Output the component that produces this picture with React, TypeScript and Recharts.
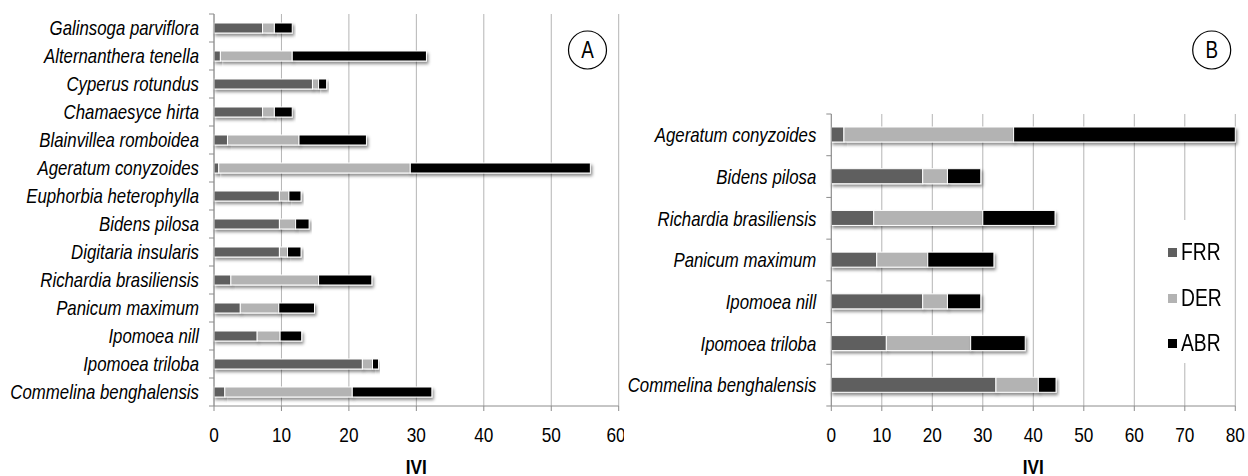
import { BarChart, Bar, XAxis, YAxis, CartesianGrid, Legend } from 'recharts'

const seriesNames = ['FRR', 'DER', 'ABR']
const seriesColors = ['#5f5f5f', '#b3b3b3', '#000000']

const speciesA = [
  'Galinsoga parviflora',
  'Alternanthera tenella',
  'Cyperus rotundus',
  'Chamaesyce hirta',
  'Blainvillea romboidea',
  'Ageratum conyzoides',
  'Euphorbia heterophylla',
  'Bidens pilosa',
  'Digitaria insularis',
  'Richardia brasiliensis',
  'Panicum maximum',
  'Ipomoea nill',
  'Ipomoea triloba',
  'Commelina benghalensis',
]
const frrA = [7.2, 0.95, 14.6, 7.2, 2.0, 0.7, 9.7, 9.7, 9.7, 2.5, 3.9, 6.4, 22.0, 1.6]
const derA = [1.75, 10.65, 0.9, 1.75, 10.6, 28.4, 1.4, 2.4, 1.2, 13.0, 5.7, 3.4, 1.5, 18.9]
const abrA = [2.65, 19.9, 1.2, 2.65, 10.0, 26.7, 1.8, 2.0, 2.0, 7.9, 5.3, 3.2, 0.9, 11.8]
const ticksA = [0, 10, 20, 30, 40, 50, 60]

const speciesB = [
  'Ageratum conyzoides',
  'Bidens pilosa',
  'Richardia brasiliensis',
  'Panicum maximum',
  'Ipomoea nill',
  'Ipomoea triloba',
  'Commelina benghalensis',
]
const frrB = [2.5, 18.1, 8.4, 9.0, 18.1, 10.9, 32.6]
const derB = [33.6, 4.9, 21.6, 10.1, 4.9, 16.7, 8.4]
const abrB = [43.9, 6.6, 14.3, 13.1, 6.6, 10.8, 3.5]
const ticksB = [0, 10, 20, 30, 40, 50, 60, 70, 80]

// no narrow font installed, so squeeze Liberation Sans like Arial Narrow
const font = "'Liberation Sans', Arial, sans-serif"
const squeeze = 0.82
const axisGray = '#8c8c8c'

const build = (names: string[], a: number[], b: number[], c: number[]) =>
  names.map((name, i) => ({ name, FRR: a[i], DER: b[i], ABR: c[i] }))

const dataA = build(speciesA, frrA, derA, abrA)
const dataB = build(speciesB, frrB, derB, abrB)

function NarrowText({ x, y, dy, anchor, size, italic, bold, children }: any) {
  return (
    <text
      transform={`translate(${x},${y}) scale(${squeeze},1)`}
      dy={dy}
      textAnchor={anchor}
      fontFamily={font}
      fontSize={size}
      fontStyle={italic ? 'italic' : 'normal'}
      fontWeight={bold ? 'bold' : 'normal'}
      fill="#000"
    >
      {children}
    </text>
  )
}

function makeCatTick(band: number, last: string) {
  return (props: any) => {
    const { x, y, payload } = props
    return (
      <g>
        <NarrowText x={x} y={y} dy="0.355em" anchor="end" size={20.5} italic>
          {payload.value}
        </NarrowText>
        <line x1={x + 10} x2={x + 15} y1={y - band / 2} y2={y - band / 2} stroke={axisGray} />
        {payload.value === last && (
          <line x1={x + 10} x2={x + 15} y1={y + band / 2} y2={y + band / 2} stroke={axisGray} />
        )}
      </g>
    )
  }
}

const ValueTick = (props: any) => (
  <NarrowText x={props.x} y={props.y} dy="0.71em" anchor="middle" size={21}>
    {props.payload.value}
  </NarrowText>
)

const AxisTitle = (props: any) => {
  const vb = props.viewBox
  return (
    <NarrowText x={vb.x + vb.width / 2} y={vb.y + vb.height - 2} anchor="middle" size={21} bold>
      IVI
    </NarrowText>
  )
}

function shadowShape(id: string) {
  return (p: any) => (
    <rect
      x={p.x}
      y={p.y}
      width={Math.max(p.width, 0)}
      height={p.height}
      fill={p.fill}
      stroke="#fff"
      strokeWidth={1}
      filter={`url(#${id})`}
    />
  )
}

function Panel({ data, ticks, width, top, yWidth, right, barSize, band, shadowId, letter, cx, withLegend }: any) {
  return (
    <BarChart
      width={width}
      height={476}
      data={data}
      layout="vertical"
      margin={{ top, right, bottom: 0, left: 0 }}
    >
      <defs>
        <filter id={shadowId} x="-10%" y="-60%" width="130%" height="260%">
          <feDropShadow dx="1.5" dy="2.5" stdDeviation="1.4" floodColor="#000" floodOpacity="0.45" />
        </filter>
      </defs>
      <CartesianGrid horizontal={false} stroke="#b4b4b4" />
      <XAxis
        type="number"
        domain={[ticks[0], ticks[ticks.length - 1]]}
        ticks={ticks}
        height={70}
        tickSize={5}
        tickMargin={16}
        tick={ValueTick}
        tickLine={{ stroke: axisGray }}
        axisLine={{ stroke: axisGray }}
        label={(p: any) => <AxisTitle {...p} />}
      />
      <YAxis
        type="category"
        dataKey="name"
        width={yWidth}
        tickSize={5}
        tickMargin={10}
        tickLine={false}
        axisLine={{ stroke: axisGray }}
        interval={0}
        tick={makeCatTick(band, data[data.length - 1].name)}
      />
      {withLegend && (
        <Legend
          layout="vertical"
          align="center"
          verticalAlign="middle"
          wrapperStyle={{ left: 540, top: 220, width: 64, height: 143, background: '#fff' }}
          content={() => (
            <div style={{ paddingTop: 10 }}>
              {seriesNames.map((s, i) => (
                <div key={s} style={{ display: 'flex', alignItems: 'center', height: 45.5, whiteSpace: 'nowrap' }}>
                  <span
                    style={{
                      display: 'inline-block',
                      flex: '0 0 9px',
                      width: 9,
                      height: 9,
                      marginLeft: 8,
                      marginRight: 4,
                      background: seriesColors[i],
                    }}
                  />
                  <span
                    style={{
                      display: 'inline-block',
                      flex: '0 0 auto',
                      fontFamily: font,
                      fontSize: 23.5,
                      color: '#000',
                      transform: `scaleX(${squeeze})`,
                      transformOrigin: 'left center',
                    }}
                  >
                    {s}
                  </span>
                </div>
              ))}
            </div>
          )}
        />
      )}
      {seriesNames.map((s, i) => (
        <Bar
          key={s}
          dataKey={s}
          name={s}
          stackId="a"
          fill={seriesColors[i]}
          barSize={barSize}
          shape={shadowShape(shadowId)}
          isAnimationActive={false}
        />
      ))}
      <g>
        <circle cx={cx} cy={50} r={19} fill="none" stroke="#000" strokeWidth={1.2} />
        <NarrowText x={cx} y={50} dy="0.355em" anchor="middle" size={23}>
          {letter}
        </NarrowText>
      </g>
    </BarChart>
  )
}

export default function App() {
  return (
    <div style={{ position: 'absolute', left: 0, top: 0, width: 1248, height: 476, background: '#fff' }}>
      <div style={{ position: 'absolute', left: 0, top: 0 }}>
        <Panel
          data={dataA}
          ticks={ticksA}
          width={624}
          top={14}
          yWidth={214}
          right={5.3}
          barSize={10}
          band={28}
          shadowId="shadowA"
          letter="A"
          cx={587.5}
        />
      </div>
      <div style={{ position: 'absolute', left: 620, top: 0 }}>
        <Panel
          data={dataB}
          ticks={ticksB}
          width={628}
          top={114}
          yWidth={211.3}
          right={12.7}
          barSize={15}
          band={41.71}
          shadowId="shadowB"
          letter="B"
          cx={591.7}
          withLegend
        />
      </div>
    </div>
  )
}
